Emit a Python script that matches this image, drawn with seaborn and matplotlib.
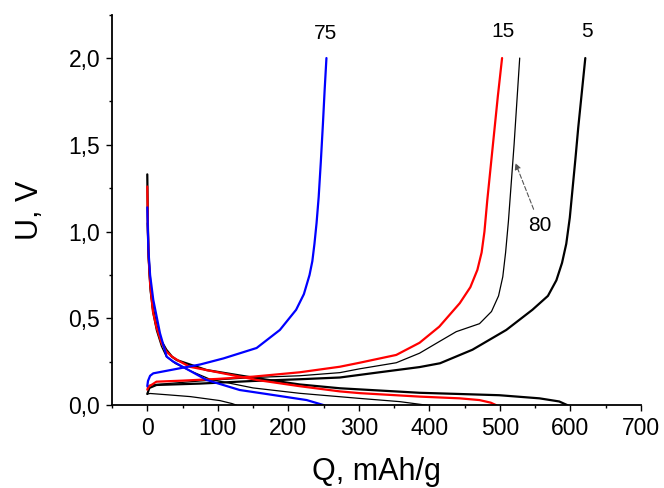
import matplotlib
matplotlib.use('Agg')
import matplotlib.pyplot as plt
import seaborn as sns
import pandas as pd
from matplotlib.ticker import MultipleLocator, FixedLocator, FixedFormatter

# Charge / discharge curves (Q in mAh/g, U in V)
# cycle 5 (thick black)
q5_dis = [0, 1, 2, 4, 8, 13, 20, 27, 35, 42, 84, 155, 216, 273, 386, 443, 499, 556, 584, 596]
u5_dis = [1.33, 1.0, 0.85, 0.72, 0.56, 0.46, 0.37, 0.32, 0.28, 0.26, 0.203, 0.156, 0.12, 0.098, 0.072, 0.065, 0.058, 0.04, 0.022, 0.0]
q5_chg = [0, 3, 13, 75, 150, 216, 273, 329, 386, 415, 461, 509, 546, 568, 580, 588, 594, 599, 603, 607, 611, 616, 621]
u5_chg = [0.065, 0.1, 0.117, 0.125, 0.14, 0.15, 0.16, 0.19, 0.22, 0.242, 0.32, 0.434, 0.55, 0.63, 0.72, 0.82, 0.93, 1.08, 1.25, 1.42, 1.6, 1.8, 2.0]

# cycle 15 (red)
q15_dis = [0, 1, 2, 4, 8, 13, 20, 27, 35, 45, 60, 155, 216, 273, 301, 386, 443, 471, 487, 495]
u15_dis = [1.26, 0.98, 0.84, 0.7, 0.54, 0.45, 0.36, 0.31, 0.28, 0.255, 0.222, 0.146, 0.11, 0.08, 0.07, 0.05, 0.04, 0.03, 0.015, 0.0]
q15_chg = [0, 2, 13, 50, 100, 150, 216, 273, 301, 353, 386, 414, 443, 458, 468, 474, 478, 482, 487, 492, 497, 503]
u15_chg = [0.09, 0.107, 0.136, 0.142, 0.152, 0.165, 0.19, 0.222, 0.245, 0.29, 0.36, 0.453, 0.588, 0.68, 0.78, 0.88, 1.0, 1.18, 1.38, 1.58, 1.78, 2.0]

# cycle 75 (blue)
q75_dis = [0, 1.5, 4, 8.5, 18, 27.5, 37, 60, 84, 131, 169, 226, 251]
u75_dis = [1.14, 0.9, 0.75, 0.607, 0.415, 0.28, 0.251, 0.2, 0.146, 0.088, 0.065, 0.03, 0.0]
q75_chg = [0, 1, 4, 8.5, 46, 75, 108, 155, 188, 211, 222, 230, 234, 237, 240, 243, 246, 249, 251.5, 254]
u75_chg = [0.11, 0.14, 0.17, 0.184, 0.213, 0.235, 0.27, 0.33, 0.434, 0.55, 0.64, 0.75, 0.83, 0.93, 1.05, 1.2, 1.4, 1.62, 1.82, 2.0]

# cycle 80 (thin black)
q80_dis = [0, 1, 2, 4, 8, 13, 20, 27, 40, 60, 89, 150, 216, 300, 358, 397]
u80_dis = [1.05, 0.9, 0.8, 0.66, 0.53, 0.43, 0.34, 0.28, 0.24, 0.2, 0.15, 0.1, 0.069, 0.04, 0.021, 0.0]
q80_chg = [0, 3, 13, 75, 150, 216, 273, 301, 353, 386, 414, 438, 471, 488, 498, 504, 508, 512, 516, 520, 524, 528]
u80_chg = [0.1, 0.115, 0.12, 0.14, 0.16, 0.17, 0.188, 0.21, 0.245, 0.3, 0.367, 0.424, 0.47, 0.54, 0.63, 0.74, 0.88, 1.06, 1.28, 1.5, 1.75, 2.0]

# short thin black tail near the bottom
q_tail = [0, 4, 30, 61, 103, 120, 127]
u_tail = [0.065, 0.068, 0.06, 0.05, 0.027, 0.01, 0.0]

x_ticks = [0, 100, 200, 300, 400, 500, 600, 700]
x_labels = ['0', '100', '200', '300', '400', '500', '600', '700']
y_ticks = [0.0, 0.5, 1.0, 1.5, 2.0]
y_labels = ['0,0', '0,5', '1,0', '1,5', '2,0']

# curve labels: text, Q, U
curve_labels = [('75', 253, 2.14), ('15', 505, 2.155), ('5', 624, 2.155)]

sns.set_theme(style='ticks')
plt.rcParams['font.family'] = ['Liberation Sans', 'DejaVu Sans']
plt.rcParams['text.color'] = 'black'
plt.rcParams['axes.labelcolor'] = 'black'
plt.rcParams['xtick.color'] = 'black'
plt.rcParams['ytick.color'] = 'black'

fig = plt.figure(figsize=(6.64, 4.88), dpi=100)
ax = fig.add_axes([0.1687, 0.1695, 0.7967, 0.8005])

curves = [
    (q80_dis, u80_dis, 'black', 0.9),
    (q80_chg, u80_chg, 'black', 0.9),
    (q_tail, u_tail, 'black', 0.9),
    (q5_dis, u5_dis, 'black', 1.6),
    (q5_chg, u5_chg, 'black', 1.6),
    (q15_dis, u15_dis, '#ff0000', 1.6),
    (q15_chg, u15_chg, '#ff0000', 1.6),
    (q75_dis, u75_dis, '#0000ff', 1.6),
    (q75_chg, u75_chg, '#0000ff', 1.6),
]
for q, u, c, lw in curves:
    df = pd.DataFrame({'Q': q, 'U': u})
    sns.lineplot(data=df, x='Q', y='U', sort=False, estimator=None, color=c, linewidth=lw, ax=ax)

for txt, qx, uy in curve_labels:
    ax.text(qx, uy, txt, fontsize=15, ha='center', va='center')

ax.annotate('80', xy=(522, 1.395), xytext=(557, 1.033), fontsize=15, ha='center', va='center',
            arrowprops=dict(arrowstyle='-|>', color='#555555', lw=0.8, linestyle=(0, (4, 2)),
                            shrinkA=3, shrinkB=0, mutation_scale=9))

ax.set_xlim(-50, 700)
ax.set_ylim(0, 2.25)
ax.xaxis.set_major_locator(FixedLocator(x_ticks))
ax.xaxis.set_major_formatter(FixedFormatter(x_labels))
ax.xaxis.set_minor_locator(MultipleLocator(50))
ax.yaxis.set_major_locator(FixedLocator(y_ticks))
ax.yaxis.set_major_formatter(FixedFormatter(y_labels))
ax.yaxis.set_minor_locator(MultipleLocator(0.25))

ax.tick_params(which='major', direction='out', length=4.5, width=1.0, labelsize=16.5, color='black', pad=4)
ax.tick_params(which='minor', direction='out', length=2.5, width=1.0, color='black')
ax.set_xlabel('Q, mAh/g', fontsize=22, labelpad=12)
ax.set_ylabel('U, V', fontsize=22, labelpad=17)
sns.despine(ax=ax)
for s in ['left', 'bottom']:
    ax.spines[s].set_linewidth(1.3)
    ax.spines[s].set_color('black')

fig.savefig('out.png', dpi=100)
